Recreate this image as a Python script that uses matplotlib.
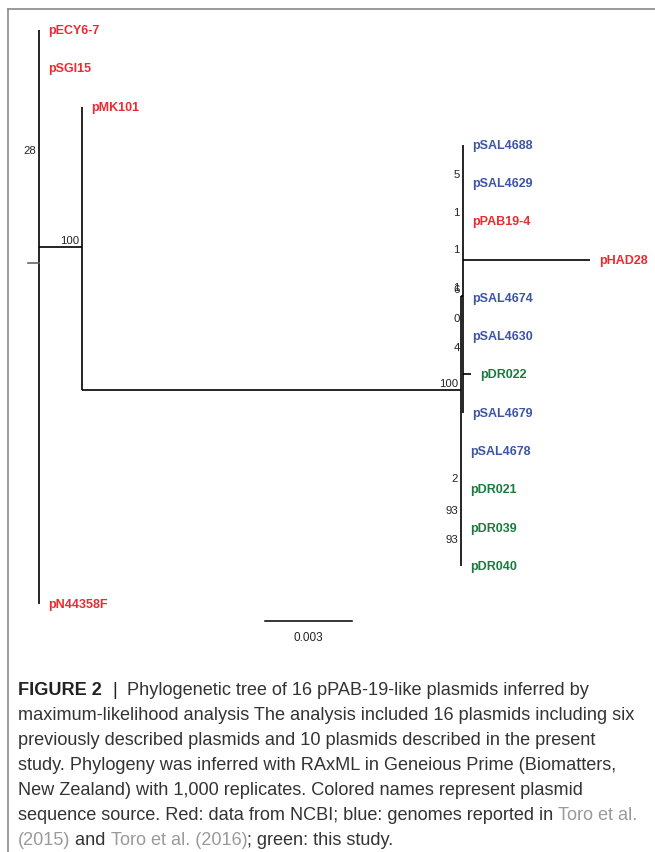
import matplotlib
matplotlib.use("Agg")
import matplotlib.pyplot as plt
from matplotlib.lines import Line2D

# tips, top to bottom
tips = ['pECY6-7', 'pSGI15', 'pMK101', 'pSAL4688', 'pSAL4629', 'pPAB19-4',
        'pHAD28', 'pSAL4674', 'pSAL4630', 'pDR022', 'pSAL4679', 'pSAL4678',
        'pDR021', 'pDR039', 'pDR040', 'pN44358F']
tip_source = ['ncbi', 'ncbi', 'ncbi', 'toro', 'toro', 'ncbi',
              'ncbi', 'toro', 'toro', 'study', 'toro', 'toro',
              'study', 'study', 'study', 'ncbi']

# tree edges: parent, child, branch length (substitutions/site)
edge_parent = ['root', 'root', 'root', 'root',
               'A', 'A',
               'B', 'B', 'B', 'B', 'B',
               'C', 'C', 'C', 'C', 'C', 'C', 'C', 'C']
edge_child = ['pECY6-7', 'pSGI15', 'A', 'pN44358F',
              'pMK101', 'B',
              'C', 'pSAL4678', 'pDR021', 'pDR039', 'pDR040',
              'pSAL4688', 'pSAL4629', 'pPAB19-4', 'pHAD28',
              'pSAL4674', 'pSAL4630', 'pDR022', 'pSAL4679']
edge_length = [0.0, 0.0, 0.00148, 0.0,
               0.0, 0.01307,
               0.00007, 0.0, 0.0, 0.0, 0.0,
               0.0, 0.0, 0.0, 0.00438, 0.0, 0.0, 0.00028, 0.0]

# where the internal nodes sit along the tip axis
node_row = {'root': 6.09, 'A': 5.67, 'B': 9.41, 'C': 6.95}

# bootstrap supports: node, value, row
support_node = ['root', 'A', 'C', 'C', 'C', 'C', 'C', 'C', 'C', 'B', 'B', 'B', 'B']
support_value = ['28', '100', '5', '1', '1', '6', '1', '0', '4', '100', '2', '93', '93']
support_row = [3.14, 5.49, 3.76, 4.75, 5.72, 6.77, 6.72, 7.53, 8.29, 9.22, 11.70, 12.54, 13.30]

scale_length = 0.003

source_color = {'ncbi': '#ee2a2f', 'toro': '#3c55a5', 'study': '#1b7a3e'}

# ---- layout of the tree
depth = {'root': 0.0}
for p, c, l in zip(edge_parent, edge_child, edge_length):
    depth[c] = depth[p] + l
row = dict(node_row)
for i, t in enumerate(tips):
    row[t] = i

W, H = 655, 853
fig = plt.figure(figsize=(W / 100, H / 100), dpi=100)
ax = fig.add_axes([0, 0, 1, 1])
px = scale_length / 87.0          # substitutions per pixel
rp = 38.27                        # pixels per tip row
ax.set_xlim(-39 * px, (W - 39) * px)
ax.set_ylim((H - 31) / rp, -31 / rp)
ax.axis('off')

lw = 1.2
children = {}
for p, c in zip(edge_parent, edge_child):
    children.setdefault(p, []).append(c)
    ax.plot([depth[p], depth[c]], [row[c], row[c]], color='black', lw=lw,
            solid_capstyle='butt')
for p, ch in children.items():
    ys = [row[c] for c in ch] + [row[p]]
    ax.plot([depth[p], depth[p]], [min(ys), max(ys)], color='black', lw=lw,
            solid_capstyle='butt')

# root stub
ax.plot([-11 * px, 0], [row['root'], row['root']], color='#666666', lw=lw)

for t, s in zip(tips, tip_source):
    ax.annotate(t, xy=(depth[t], row[t]), xytext=(6.5, 0),
                textcoords='offset points', va='center', ha='left',
                fontsize=9, fontweight='bold', color=source_color[s],
                family='Liberation Sans')

for n, v, r in zip(support_node, support_value, support_row):
    ax.annotate(v, xy=(depth[n], r), xytext=(-2.2, 0),
                textcoords='offset points', va='center', ha='right',
                fontsize=8.2, color='#222222', family='Liberation Sans')

# scale bar
sx0 = 0.00779
sy = 15.44
ax.plot([sx0, sx0 + scale_length], [sy, sy], color='black', lw=1.1)
ax.text(sx0 + scale_length / 2, sy + 0.42, str(scale_length), ha='center',
        va='center', fontsize=8.5, color='#222222', family='Liberation Sans')

# frame
fig.add_artist(Line2D([8 / W, 1], [1 - 10 / H, 1 - 10 / H], color='#8a8a8a', lw=1.2))
fig.add_artist(Line2D([8 / W, 8 / W], [0, 1 - 10 / H], color='#8a8a8a', lw=1.2))

# caption
dark = '#333333'
link = '#9a9a9a'
caption = [
    [('FIGURE 2  ', '#222222', 'bold'), ('|', '#222222', 'normal'),
     ('  Phylogenetic tree of 16 pPAB-19-like plasmids inferred by', dark, 'normal')],
    [('maximum-likelihood analysis The analysis included 16 plasmids including six', dark, 'normal')],
    [('previously described plasmids and 10 plasmids described in the present', dark, 'normal')],
    [('study. Phylogeny was inferred with RAxML in Geneious Prime (Biomatters,', dark, 'normal')],
    [('New Zealand) with 1,000 replicates. Colored names represent plasmid', dark, 'normal')],
    [('sequence source. Red: data from NCBI; blue: genomes reported in ', dark, 'normal'),
     ('Toro et al.', link, 'normal')],
    [('(2015)', link, 'normal'), (' and ', dark, 'normal'),
     ('Toro et al. (2016)', link, 'normal'), ('; green: this study.', dark, 'normal')],
]
renderer = fig.canvas.get_renderer()
cap_size = 13.1
y0 = 695
for i, segs in enumerate(caption):
    x = 18
    for txt, col, wt in segs:
        t = fig.text(x / W, 1 - (y0 + 25 * i) / H, txt, color=col, fontweight=wt,
                     fontsize=cap_size, family='Liberation Sans', va='baseline',
                     ha='left')
        x += t.get_window_extent(renderer).width

fig.savefig('out.png', dpi=100)
